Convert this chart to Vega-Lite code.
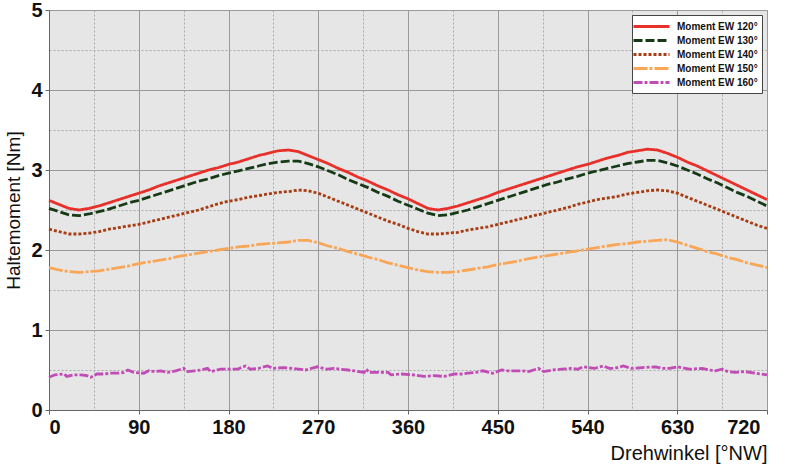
{
  "$schema": "https://vega.github.io/schema/vega-lite/v6.json",
  "width": 718,
  "height": 400,
  "autosize": "none",
  "padding": {"left": 49, "top": 10, "right": 18, "bottom": 55},
  "background": "white",
  "config": {
    "font": "Liberation Sans",
    "view": {"fill": "#e6e6e6", "stroke": "#8c8c8c", "strokeWidth": 1},
    "legend": {
      "orient": "top-right",
      "offset": 5,
      "padding": 4,
      "fillColor": "white",
      "strokeColor": "#444",
      "symbolType": "M-3,0H3",
      "symbolSize": 144,
      "symbolOffset": 8,
      "symbolStrokeWidth": 3,
      "labelFont": "Liberation Sans",
      "labelFontSize": 10,
      "labelFontWeight": "bold",
      "labelColor": "#111",
      "labelOffset": 18,
      "rowPadding": 0
    }
  },
  "data": {
    "values": [
      {"w":0,"m":2.62,"s":"120"},{"w":10,"m":2.57,"s":"120"},{"w":20,"m":2.52,"s":"120"},{"w":30,"m":2.50,"s":"120"},{"w":40,"m":2.52,"s":"120"},{"w":50,"m":2.55,"s":"120"},{"w":60,"m":2.59,"s":"120"},{"w":70,"m":2.63,"s":"120"},{"w":80,"m":2.67,"s":"120"},{"w":90,"m":2.71,"s":"120"},{"w":100,"m":2.75,"s":"120"},{"w":110,"m":2.80,"s":"120"},{"w":120,"m":2.84,"s":"120"},{"w":130,"m":2.88,"s":"120"},{"w":140,"m":2.92,"s":"120"},{"w":150,"m":2.96,"s":"120"},{"w":160,"m":3.00,"s":"120"},{"w":170,"m":3.03,"s":"120"},{"w":180,"m":3.07,"s":"120"},{"w":190,"m":3.10,"s":"120"},{"w":200,"m":3.14,"s":"120"},{"w":210,"m":3.18,"s":"120"},{"w":220,"m":3.21,"s":"120"},{"w":230,"m":3.24,"s":"120"},{"w":240,"m":3.25,"s":"120"},{"w":250,"m":3.23,"s":"120"},{"w":260,"m":3.18,"s":"120"},{"w":270,"m":3.13,"s":"120"},{"w":280,"m":3.08,"s":"120"},{"w":290,"m":3.02,"s":"120"},{"w":300,"m":2.97,"s":"120"},{"w":310,"m":2.91,"s":"120"},{"w":320,"m":2.86,"s":"120"},{"w":330,"m":2.80,"s":"120"},{"w":340,"m":2.75,"s":"120"},{"w":350,"m":2.69,"s":"120"},{"w":360,"m":2.64,"s":"120"},{"w":370,"m":2.58,"s":"120"},{"w":380,"m":2.52,"s":"120"},{"w":390,"m":2.50,"s":"120"},{"w":400,"m":2.52,"s":"120"},{"w":410,"m":2.55,"s":"120"},{"w":420,"m":2.59,"s":"120"},{"w":430,"m":2.63,"s":"120"},{"w":440,"m":2.67,"s":"120"},{"w":450,"m":2.72,"s":"120"},{"w":460,"m":2.76,"s":"120"},{"w":470,"m":2.80,"s":"120"},{"w":480,"m":2.84,"s":"120"},{"w":490,"m":2.88,"s":"120"},{"w":500,"m":2.92,"s":"120"},{"w":510,"m":2.96,"s":"120"},{"w":520,"m":3.00,"s":"120"},{"w":530,"m":3.04,"s":"120"},{"w":540,"m":3.07,"s":"120"},{"w":550,"m":3.11,"s":"120"},{"w":560,"m":3.15,"s":"120"},{"w":570,"m":3.18,"s":"120"},{"w":580,"m":3.22,"s":"120"},{"w":590,"m":3.24,"s":"120"},{"w":600,"m":3.26,"s":"120"},{"w":610,"m":3.25,"s":"120"},{"w":620,"m":3.21,"s":"120"},{"w":630,"m":3.16,"s":"120"},{"w":640,"m":3.10,"s":"120"},{"w":650,"m":3.05,"s":"120"},{"w":660,"m":2.99,"s":"120"},{"w":670,"m":2.93,"s":"120"},{"w":680,"m":2.87,"s":"120"},{"w":690,"m":2.81,"s":"120"},{"w":700,"m":2.75,"s":"120"},{"w":710,"m":2.69,"s":"120"},{"w":720,"m":2.63,"s":"120"},

      {"w":0,"m":2.52,"s":"130"},{"w":10,"m":2.48,"s":"130"},{"w":20,"m":2.44,"s":"130"},{"w":30,"m":2.43,"s":"130"},{"w":40,"m":2.45,"s":"130"},{"w":50,"m":2.48,"s":"130"},{"w":60,"m":2.51,"s":"130"},{"w":70,"m":2.55,"s":"130"},{"w":80,"m":2.59,"s":"130"},{"w":90,"m":2.62,"s":"130"},{"w":100,"m":2.66,"s":"130"},{"w":110,"m":2.70,"s":"130"},{"w":120,"m":2.74,"s":"130"},{"w":130,"m":2.78,"s":"130"},{"w":140,"m":2.82,"s":"130"},{"w":150,"m":2.86,"s":"130"},{"w":160,"m":2.89,"s":"130"},{"w":170,"m":2.93,"s":"130"},{"w":180,"m":2.96,"s":"130"},{"w":190,"m":2.99,"s":"130"},{"w":200,"m":3.02,"s":"130"},{"w":210,"m":3.05,"s":"130"},{"w":220,"m":3.08,"s":"130"},{"w":230,"m":3.10,"s":"130"},{"w":240,"m":3.11,"s":"130"},{"w":250,"m":3.11,"s":"130"},{"w":260,"m":3.08,"s":"130"},{"w":270,"m":3.04,"s":"130"},{"w":280,"m":2.99,"s":"130"},{"w":290,"m":2.94,"s":"130"},{"w":300,"m":2.88,"s":"130"},{"w":310,"m":2.83,"s":"130"},{"w":320,"m":2.78,"s":"130"},{"w":330,"m":2.72,"s":"130"},{"w":340,"m":2.67,"s":"130"},{"w":350,"m":2.61,"s":"130"},{"w":360,"m":2.56,"s":"130"},{"w":370,"m":2.51,"s":"130"},{"w":380,"m":2.46,"s":"130"},{"w":390,"m":2.43,"s":"130"},{"w":400,"m":2.44,"s":"130"},{"w":410,"m":2.47,"s":"130"},{"w":420,"m":2.50,"s":"130"},{"w":430,"m":2.54,"s":"130"},{"w":440,"m":2.58,"s":"130"},{"w":450,"m":2.62,"s":"130"},{"w":460,"m":2.66,"s":"130"},{"w":470,"m":2.70,"s":"130"},{"w":480,"m":2.74,"s":"130"},{"w":490,"m":2.78,"s":"130"},{"w":500,"m":2.82,"s":"130"},{"w":510,"m":2.85,"s":"130"},{"w":520,"m":2.89,"s":"130"},{"w":530,"m":2.92,"s":"130"},{"w":540,"m":2.96,"s":"130"},{"w":550,"m":2.99,"s":"130"},{"w":560,"m":3.02,"s":"130"},{"w":570,"m":3.05,"s":"130"},{"w":580,"m":3.08,"s":"130"},{"w":590,"m":3.10,"s":"130"},{"w":600,"m":3.12,"s":"130"},{"w":610,"m":3.12,"s":"130"},{"w":620,"m":3.09,"s":"130"},{"w":630,"m":3.05,"s":"130"},{"w":640,"m":3.00,"s":"130"},{"w":650,"m":2.95,"s":"130"},{"w":660,"m":2.89,"s":"130"},{"w":670,"m":2.84,"s":"130"},{"w":680,"m":2.78,"s":"130"},{"w":690,"m":2.72,"s":"130"},{"w":700,"m":2.67,"s":"130"},{"w":710,"m":2.61,"s":"130"},{"w":720,"m":2.55,"s":"130"},

      {"w":0,"m":2.26,"s":"140"},{"w":10,"m":2.23,"s":"140"},{"w":20,"m":2.20,"s":"140"},{"w":30,"m":2.20,"s":"140"},{"w":40,"m":2.21,"s":"140"},{"w":50,"m":2.23,"s":"140"},{"w":60,"m":2.26,"s":"140"},{"w":70,"m":2.28,"s":"140"},{"w":80,"m":2.30,"s":"140"},{"w":90,"m":2.32,"s":"140"},{"w":100,"m":2.35,"s":"140"},{"w":110,"m":2.38,"s":"140"},{"w":120,"m":2.41,"s":"140"},{"w":130,"m":2.44,"s":"140"},{"w":140,"m":2.47,"s":"140"},{"w":150,"m":2.50,"s":"140"},{"w":160,"m":2.54,"s":"140"},{"w":170,"m":2.58,"s":"140"},{"w":180,"m":2.61,"s":"140"},{"w":190,"m":2.63,"s":"140"},{"w":200,"m":2.66,"s":"140"},{"w":210,"m":2.68,"s":"140"},{"w":220,"m":2.70,"s":"140"},{"w":230,"m":2.72,"s":"140"},{"w":240,"m":2.73,"s":"140"},{"w":250,"m":2.75,"s":"140"},{"w":260,"m":2.74,"s":"140"},{"w":270,"m":2.71,"s":"140"},{"w":280,"m":2.66,"s":"140"},{"w":290,"m":2.61,"s":"140"},{"w":300,"m":2.56,"s":"140"},{"w":310,"m":2.51,"s":"140"},{"w":320,"m":2.46,"s":"140"},{"w":330,"m":2.41,"s":"140"},{"w":340,"m":2.36,"s":"140"},{"w":350,"m":2.32,"s":"140"},{"w":360,"m":2.27,"s":"140"},{"w":370,"m":2.23,"s":"140"},{"w":380,"m":2.20,"s":"140"},{"w":390,"m":2.20,"s":"140"},{"w":400,"m":2.21,"s":"140"},{"w":410,"m":2.22,"s":"140"},{"w":420,"m":2.25,"s":"140"},{"w":430,"m":2.27,"s":"140"},{"w":440,"m":2.29,"s":"140"},{"w":450,"m":2.32,"s":"140"},{"w":460,"m":2.35,"s":"140"},{"w":470,"m":2.38,"s":"140"},{"w":480,"m":2.41,"s":"140"},{"w":490,"m":2.44,"s":"140"},{"w":500,"m":2.47,"s":"140"},{"w":510,"m":2.50,"s":"140"},{"w":520,"m":2.53,"s":"140"},{"w":530,"m":2.57,"s":"140"},{"w":540,"m":2.60,"s":"140"},{"w":550,"m":2.63,"s":"140"},{"w":560,"m":2.65,"s":"140"},{"w":570,"m":2.67,"s":"140"},{"w":580,"m":2.70,"s":"140"},{"w":590,"m":2.72,"s":"140"},{"w":600,"m":2.74,"s":"140"},{"w":610,"m":2.75,"s":"140"},{"w":620,"m":2.74,"s":"140"},{"w":630,"m":2.71,"s":"140"},{"w":640,"m":2.66,"s":"140"},{"w":650,"m":2.61,"s":"140"},{"w":660,"m":2.56,"s":"140"},{"w":670,"m":2.51,"s":"140"},{"w":680,"m":2.46,"s":"140"},{"w":690,"m":2.41,"s":"140"},{"w":700,"m":2.36,"s":"140"},{"w":710,"m":2.31,"s":"140"},{"w":720,"m":2.27,"s":"140"},

      {"w":0,"m":1.78,"s":"150"},{"w":10,"m":1.75,"s":"150"},{"w":20,"m":1.73,"s":"150"},{"w":30,"m":1.72,"s":"150"},{"w":40,"m":1.73,"s":"150"},{"w":50,"m":1.74,"s":"150"},{"w":60,"m":1.76,"s":"150"},{"w":70,"m":1.78,"s":"150"},{"w":80,"m":1.80,"s":"150"},{"w":90,"m":1.83,"s":"150"},{"w":100,"m":1.85,"s":"150"},{"w":110,"m":1.87,"s":"150"},{"w":120,"m":1.89,"s":"150"},{"w":130,"m":1.92,"s":"150"},{"w":140,"m":1.94,"s":"150"},{"w":150,"m":1.96,"s":"150"},{"w":160,"m":1.98,"s":"150"},{"w":170,"m":2.00,"s":"150"},{"w":180,"m":2.02,"s":"150"},{"w":190,"m":2.04,"s":"150"},{"w":200,"m":2.05,"s":"150"},{"w":210,"m":2.07,"s":"150"},{"w":220,"m":2.08,"s":"150"},{"w":230,"m":2.09,"s":"150"},{"w":240,"m":2.10,"s":"150"},{"w":250,"m":2.12,"s":"150"},{"w":260,"m":2.12,"s":"150"},{"w":270,"m":2.09,"s":"150"},{"w":280,"m":2.05,"s":"150"},{"w":290,"m":2.02,"s":"150"},{"w":300,"m":1.98,"s":"150"},{"w":310,"m":1.95,"s":"150"},{"w":320,"m":1.91,"s":"150"},{"w":330,"m":1.88,"s":"150"},{"w":340,"m":1.84,"s":"150"},{"w":350,"m":1.81,"s":"150"},{"w":360,"m":1.78,"s":"150"},{"w":370,"m":1.75,"s":"150"},{"w":380,"m":1.73,"s":"150"},{"w":390,"m":1.72,"s":"150"},{"w":400,"m":1.72,"s":"150"},{"w":410,"m":1.73,"s":"150"},{"w":420,"m":1.75,"s":"150"},{"w":430,"m":1.77,"s":"150"},{"w":440,"m":1.79,"s":"150"},{"w":450,"m":1.82,"s":"150"},{"w":460,"m":1.84,"s":"150"},{"w":470,"m":1.86,"s":"150"},{"w":480,"m":1.89,"s":"150"},{"w":490,"m":1.91,"s":"150"},{"w":500,"m":1.93,"s":"150"},{"w":510,"m":1.95,"s":"150"},{"w":520,"m":1.97,"s":"150"},{"w":530,"m":1.99,"s":"150"},{"w":540,"m":2.01,"s":"150"},{"w":550,"m":2.03,"s":"150"},{"w":560,"m":2.05,"s":"150"},{"w":570,"m":2.07,"s":"150"},{"w":580,"m":2.08,"s":"150"},{"w":590,"m":2.10,"s":"150"},{"w":600,"m":2.11,"s":"150"},{"w":610,"m":2.12,"s":"150"},{"w":620,"m":2.13,"s":"150"},{"w":630,"m":2.10,"s":"150"},{"w":640,"m":2.06,"s":"150"},{"w":650,"m":2.02,"s":"150"},{"w":660,"m":1.98,"s":"150"},{"w":670,"m":1.95,"s":"150"},{"w":680,"m":1.91,"s":"150"},{"w":690,"m":1.88,"s":"150"},{"w":700,"m":1.84,"s":"150"},{"w":710,"m":1.81,"s":"150"},{"w":720,"m":1.78,"s":"150"},

      {"w":0,"m":0.41,"s":"160"},{"w":6,"m":0.44,"s":"160"},{"w":15,"m":0.45,"s":"160"},{"w":18,"m":0.42,"s":"160"},{"w":25,"m":0.44,"s":"160"},{"w":32,"m":0.44,"s":"160"},{"w":38,"m":0.43,"s":"160"},{"w":42,"m":0.41,"s":"160"},{"w":48,"m":0.45,"s":"160"},{"w":55,"m":0.45,"s":"160"},{"w":62,"m":0.46,"s":"160"},{"w":70,"m":0.46,"s":"160"},{"w":75,"m":0.47,"s":"160"},{"w":79,"m":0.50,"s":"160"},{"w":85,"m":0.47,"s":"160"},{"w":95,"m":0.46,"s":"160"},{"w":100,"m":0.49,"s":"160"},{"w":106,"m":0.48,"s":"160"},{"w":112,"m":0.49,"s":"160"},{"w":119,"m":0.47,"s":"160"},{"w":127,"m":0.49,"s":"160"},{"w":135,"m":0.52,"s":"160"},{"w":139,"m":0.48,"s":"160"},{"w":146,"m":0.49,"s":"160"},{"w":152,"m":0.50,"s":"160"},{"w":159,"m":0.52,"s":"160"},{"w":162,"m":0.48,"s":"160"},{"w":172,"m":0.51,"s":"160"},{"w":180,"m":0.51,"s":"160"},{"w":189,"m":0.51,"s":"160"},{"w":197,"m":0.55,"s":"160"},{"w":202,"m":0.51,"s":"160"},{"w":210,"m":0.52,"s":"160"},{"w":219,"m":0.55,"s":"160"},{"w":225,"m":0.52,"s":"160"},{"w":235,"m":0.53,"s":"160"},{"w":245,"m":0.52,"s":"160"},{"w":257,"m":0.50,"s":"160"},{"w":269,"m":0.54,"s":"160"},{"w":279,"m":0.51,"s":"160"},{"w":286,"m":0.52,"s":"160"},{"w":292,"m":0.51,"s":"160"},{"w":300,"m":0.50,"s":"160"},{"w":306,"m":0.49,"s":"160"},{"w":316,"m":0.47,"s":"160"},{"w":318,"m":0.51,"s":"160"},{"w":321,"m":0.47,"s":"160"},{"w":330,"m":0.47,"s":"160"},{"w":340,"m":0.47,"s":"160"},{"w":343,"m":0.44,"s":"160"},{"w":353,"m":0.45,"s":"160"},{"w":365,"m":0.44,"s":"160"},{"w":376,"m":0.42,"s":"160"},{"w":386,"m":0.43,"s":"160"},{"w":396,"m":0.42,"s":"160"},{"w":407,"m":0.45,"s":"160"},{"w":414,"m":0.45,"s":"160"},{"w":420,"m":0.46,"s":"160"},{"w":428,"m":0.47,"s":"160"},{"w":435,"m":0.49,"s":"160"},{"w":445,"m":0.46,"s":"160"},{"w":454,"m":0.50,"s":"160"},{"w":460,"m":0.49,"s":"160"},{"w":467,"m":0.49,"s":"160"},{"w":474,"m":0.49,"s":"160"},{"w":481,"m":0.48,"s":"160"},{"w":491,"m":0.52,"s":"160"},{"w":496,"m":0.48,"s":"160"},{"w":505,"m":0.50,"s":"160"},{"w":514,"m":0.51,"s":"160"},{"w":524,"m":0.52,"s":"160"},{"w":530,"m":0.51,"s":"160"},{"w":536,"m":0.54,"s":"160"},{"w":547,"m":0.52,"s":"160"},{"w":556,"m":0.55,"s":"160"},{"w":562,"m":0.52,"s":"160"},{"w":567,"m":0.52,"s":"160"},{"w":576,"m":0.55,"s":"160"},{"w":584,"m":0.52,"s":"160"},{"w":595,"m":0.53,"s":"160"},{"w":608,"m":0.54,"s":"160"},{"w":615,"m":0.52,"s":"160"},{"w":622,"m":0.52,"s":"160"},{"w":630,"m":0.54,"s":"160"},{"w":642,"m":0.51,"s":"160"},{"w":655,"m":0.52,"s":"160"},{"w":662,"m":0.50,"s":"160"},{"w":668,"m":0.49,"s":"160"},{"w":675,"m":0.51,"s":"160"},{"w":681,"m":0.48,"s":"160"},{"w":688,"m":0.47,"s":"160"},{"w":698,"m":0.48,"s":"160"},{"w":708,"m":0.46,"s":"160"},{"w":714,"m":0.45,"s":"160"},{"w":720,"m":0.44,"s":"160"}
    ]
  },
  "mark": {"type": "line", "strokeWidth": 2.8, "strokeCap": "butt"},
  "encoding": {
    "x": {
      "field": "w",
      "type": "quantitative",
      "scale": {"domain": [0, 720], "nice": false, "zero": false},
      "axis": {
        "values": [0, 45, 90, 135, 180, 225, 270, 315, 360, 405, 450, 495, 540, 585, 630, 675, 720],
        "labelExpr": "datum.value % 90 === 0 ? format(datum.value, 'd') : ''",
        "labelOverlap": false,
        "labelFontSize": 20,
        "labelFontWeight": "bold",
        "labelColor": "#111",
        "labelPadding": 3,
        "labelOffset": {"condition": {"test": "datum.value === 720", "value": -7}, "value": 0},
        "tickSize": 4,
        "tickColor": "#666",
        "tickOpacity": {"condition": {"test": "datum.value % 90 === 0", "value": 1}, "value": 0},
        "domainColor": "#666",
        "gridColor": {"condition": {"test": "datum.value % 90 === 0", "value": "#9a9a9a"}, "value": "#ababab"},
        "gridDash": {"condition": {"test": "datum.value % 90 === 0", "value": []}, "value": [2, 2]},
        "title": "Drehwinkel [°NW]",
        "titleFontSize": 20,
        "titleFontWeight": "normal",
        "titleColor": "#111",
        "titleX": 718,
        "titleY": 49,
        "titleAlign": "right",
        "titleBaseline": "alphabetic"
      }
    },
    "y": {
      "field": "m",
      "type": "quantitative",
      "scale": {"domain": [0, 5], "nice": false},
      "axis": {
        "values": [0, 0.5, 1, 1.5, 2, 2.5, 3, 3.5, 4, 4.5, 5],
        "labelExpr": "datum.value % 1 === 0 ? format(datum.value, 'd') : ''",
        "labelOverlap": false,
        "labelFontSize": 20,
        "labelFontWeight": "bold",
        "labelColor": "#111",
        "labelPadding": 3,
        "tickSize": 4,
        "tickColor": "#666",
        "tickOpacity": {"condition": {"test": "datum.value % 1 === 0", "value": 1}, "value": 0},
        "domainColor": "#666",
        "gridColor": {"condition": {"test": "datum.value % 1 === 0", "value": "#9a9a9a"}, "value": "#ababab"},
        "gridDash": {"condition": {"test": "datum.value % 1 === 0", "value": []}, "value": [2, 2]},
        "title": "Haltemoment [Nm]",
        "titleFontSize": 19,
        "titleFontWeight": "normal",
        "titleColor": "#111",
        "titleX": -30,
        "titleY": 200,
        "titleAlign": "center",
        "titleBaseline": "alphabetic",
        "titleAngle": 270
      }
    },
    "color": {
      "field": "s",
      "type": "nominal",
      "scale": {"domain": ["120", "130", "140", "150", "160"], "range": ["#e8302a", "#163a16", "#a63c12", "#f9a657", "#c24cb6"]},
      "legend": {"title": null, "labelExpr": "'Moment EW ' + datum.label + '°'"}
    },
    "strokeDash": {
      "field": "s",
      "type": "nominal",
      "scale": {"domain": ["120", "130", "140", "150", "160"], "range": [[1, 0], [9, 3], [3, 2], [14, 2, 3, 2], [9, 2, 3, 2]]},
      "legend": {"title": null, "labelExpr": "'Moment EW ' + datum.label + '°'"}
    }
  }
}
